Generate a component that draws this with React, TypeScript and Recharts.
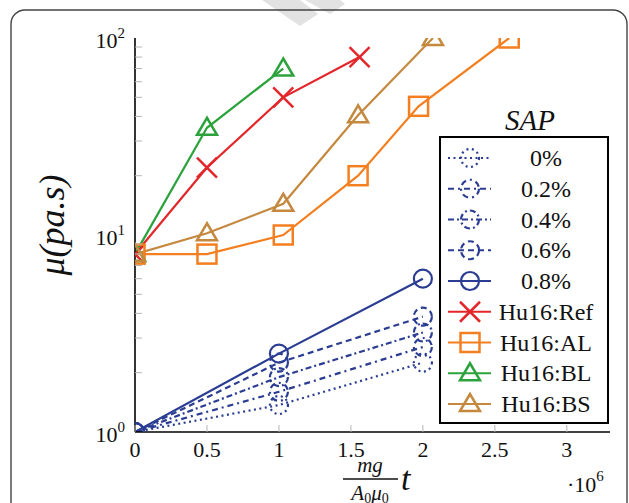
import { Line, LineChart, XAxis, YAxis } from "recharts";

// time axis values (mg/(A0 mu0) t) and viscosity mu in pa.s
const sapTime = [0, 1e6, 2e6];
const sap0 = [1, 1.37, 2.25];
const sap02 = [1, 1.6, 2.7];
const sap04 = [1, 1.9, 3.2];
const sap06 = [1, 2.25, 3.85];
const sap08 = [1, 2.5, 6];

const refTime = [0, 0.5e6, 1.03e6, 1.56e6];
const refMu = [8, 22, 50, 80];
const alTime = [0, 0.5e6, 1.03e6, 1.55e6, 1.97e6, 2.6e6];
const alMu = [8, 8, 10, 20, 45, 100];
const blTime = [0, 0.5e6, 1.03e6];
const blMu = [8, 35, 70];
const bsTime = [0, 0.5e6, 1.03e6, 1.55e6, 2.07e6];
const bsMu = [8, 10.2, 14.4, 40.5, 100];

const xTicks = [0, 0.5e6, 1e6, 1.5e6, 2e6, 2.5e6, 3e6];
const yTicks = [1, 2, 3, 4, 5, 6, 7, 8, 9, 10, 20, 30, 40, 50, 60, 70, 80, 90, 100];
const yMajor: Record<number, string> = { 1: "0", 10: "1", 100: "2" };

const BLUE = "#2b3d92";
const SERIF = '"Liberation Serif"';

type Shape = "circle" | "cross" | "square" | "triangle";

interface Series {
  name: string;
  x: number[];
  y: number[];
  color: string;
  dash?: string;
  shape: Shape;
}

const series: Series[] = [
  { name: "0%", x: sapTime, y: sap0, color: BLUE, dash: "2 3.5", shape: "circle" },
  { name: "0.2%", x: sapTime, y: sap02, color: BLUE, dash: "6 4 2 4", shape: "circle" },
  { name: "0.4%", x: sapTime, y: sap04, color: BLUE, dash: "6 3 2 3", shape: "circle" },
  { name: "0.6%", x: sapTime, y: sap06, color: BLUE, dash: "6 4", shape: "circle" },
  { name: "0.8%", x: sapTime, y: sap08, color: BLUE, shape: "circle" },
  { name: "Hu16:Ref", x: refTime, y: refMu, color: "#e3262a", shape: "cross" },
  { name: "Hu16:AL", x: alTime, y: alMu, color: "#f47f20", shape: "square" },
  { name: "Hu16:BL", x: blTime, y: blMu, color: "#2ca23c", shape: "triangle" },
  { name: "Hu16:BS", x: bsTime, y: bsMu, color: "#c4893f", shape: "triangle" },
];

const css = `
#root text, #root tspan, .serif-text { font-family: "Liberation Serif", "Tinos", "Times New Roman" !important; }
`;

function toPoints(xs: number[], ys: number[]) {
  return xs.map((t, i) => ({ t, mu: ys[i] }));
}

function T({ children, size, italic, ...rest }: any) {
  return (
    <text
      {...rest}
      className="serif-text"
      fill="#111"
      fontFamily="Liberation Serif"
      style={{ fontFamily: SERIF, fontSize: size, fontStyle: italic ? "italic" : "normal" }}
    >
      {children}
    </text>
  );
}

function Marker({ cx, cy, shape, color, dash }: { cx: number; cy: number; shape: Shape; color: string; dash?: string }) {
  const common = { fill: "none", stroke: color, strokeDasharray: dash };
  if (shape === "circle") return <circle cx={cx} cy={cy} r={9} strokeWidth={2.2} {...common} />;
  if (shape === "square")
    return <rect x={cx - 9.5} y={cy - 9.5} width={19} height={19} strokeWidth={2.5} {...common} />;
  if (shape === "triangle")
    return (
      <polygon
        points={`${cx},${cy - 10} ${cx - 10},${cy + 7} ${cx + 10},${cy + 7}`}
        strokeWidth={2.5}
        {...common}
      />
    );
  return (
    <g stroke={color} strokeWidth={2.5}>
      <line x1={cx - 10} y1={cy - 10} x2={cx + 10} y2={cy + 10} />
      <line x1={cx - 10} y1={cy + 10} x2={cx + 10} y2={cy - 10} />
    </g>
  );
}

function BottomTick(props: any) {
  const { x, y, payload } = props;
  return (
    <g>
      <line x1={x} x2={x} y1={y} y2={y - 7} stroke="#b5b5b5" strokeWidth={1} />
      <T x={x} y={y + 25} textAnchor="middle" size={22}>
        {String(payload.value / 1e6)}
      </T>
    </g>
  );
}

function TopTick(props: any) {
  const { x, y } = props;
  return <line x1={x} x2={x} y1={y} y2={y + 7} stroke="#b5b5b5" strokeWidth={1} />;
}

function LeftTick(props: any) {
  const { x, y, payload } = props;
  const exp = yMajor[payload.value];
  return (
    <g>
      <line x1={x} x2={x + (exp ? 0 : 7)} y1={y} y2={y} stroke="#b5b5b5" strokeWidth={1} />
      {exp && (
        <T x={x - 10} y={y + 10} textAnchor="end" size={22}>
          10
          <tspan dy={-10} style={{ fontSize: 15 }}>
            {exp}
          </tspan>
        </T>
      )}
    </g>
  );
}

function RightTick(props: any) {
  const { x, y, payload } = props;
  if (yMajor[payload.value]) return <g />;
  return <line x1={x} x2={x - 7} y1={y} y2={y} stroke="#b5b5b5" strokeWidth={1} />;
}

const axisLine = { stroke: "#000", strokeWidth: 1.6 };

export default function App() {
  const rowY = (i: number) => 158 + i * 30.75;
  return (
    <div style={{ position: "absolute", left: 0, top: 0, width: 629, height: 503, overflow: "hidden", background: "#fff" }}>
      <style>{css}</style>
      <svg width={629} height={503} style={{ position: "absolute", left: 0, top: 0 }}>
        <path d="M262,0 L300,26 L318,14 L300,0 Z M305,0 L330,14 L345,4 L340,0 Z" fill="#e2e2e2" />
        <rect x={11} y={10} width={616} height={520} rx={14} fill="none" stroke="#444" strokeWidth={1.4} />
      </svg>
      <div style={{ position: "absolute", left: 0, top: 0 }}>
        <LineChart width={629} height={503} margin={{ top: 38, right: 19, bottom: 41, left: 75 }}>
          <XAxis
            xAxisId="b"
            type="number"
            dataKey="t"
            domain={[0, 3.3e6]}
            ticks={xTicks}
            interval={0}
            tick={BottomTick}
            tickLine={false}
            tickSize={0}
            tickMargin={0}
            axisLine={axisLine}
            height={30}
            allowDataOverflow
          />
          <XAxis
            xAxisId="t"
            orientation="top"
            type="number"
            domain={[0, 3.3e6]}
            ticks={xTicks}
            interval={0}
            tick={TopTick}
            tickLine={false}
            tickSize={0}
            tickMargin={0}
            axisLine={axisLine}
            height={0}
            allowDataOverflow
          />
          <YAxis
            yAxisId="l"
            type="number"
            dataKey="mu"
            scale="log"
            domain={[1, 100]}
            ticks={yTicks}
            interval={0}
            tick={LeftTick}
            tickLine={false}
            tickSize={0}
            tickMargin={0}
            axisLine={axisLine}
            width={60}
            allowDataOverflow
          />
          <YAxis
            yAxisId="r"
            orientation="right"
            type="number"
            scale="log"
            domain={[1, 100]}
            ticks={yTicks}
            interval={0}
            tick={RightTick}
            tickLine={false}
            tickSize={0}
            tickMargin={0}
            axisLine={axisLine}
            width={0}
            allowDataOverflow
          />
          {series.map((s) => (
            <Line
              key={s.name}
              xAxisId="b"
              yAxisId="l"
              data={toPoints(s.x, s.y)}
              dataKey="mu"
              name={s.name}
              stroke={s.color}
              strokeWidth={2.2}
              strokeDasharray={s.dash}
              isAnimationActive={false}
              dot={(p: any) => (
                <Marker key={`${s.name}-${p.index}`} cx={p.cx} cy={p.cy} shape={s.shape} color={s.color} dash={s.dash} />
              )}
              activeDot={false}
            />
          ))}
        </LineChart>
      </div>
      <svg width={629} height={503} style={{ position: "absolute", left: 0, top: 0 }}>
        {/* y label */}
        <T x={64} y={225} size={36} italic textAnchor="middle" transform="rotate(-90 64 225)">
          μ(pa.s)
        </T>
        {/* x label */}
        <T x={370} y={472} size={21} italic textAnchor="middle">
          mg
        </T>
        <line x1={343} x2={398} y1={479} y2={479} stroke="#111" strokeWidth={1.3} />
        <T x={370} y={500} size={21} italic textAnchor="middle">
          A<tspan dy={3} style={{ fontSize: 14, fontStyle: "normal" }}>0</tspan>
          <tspan dy={-3}>μ</tspan>
          <tspan dy={3} style={{ fontSize: 14, fontStyle: "normal" }}>0</tspan>
        </T>
        <T x={401} y={490} size={34} italic>
          t
        </T>
        <T x={567} y={492} size={22}>
          ·10<tspan dy={-11} style={{ fontSize: 15 }}>6</tspan>
        </T>
        {/* legend */}
        <T x={530} y={130} size={29} italic textAnchor="middle">
          SAP
        </T>
        <rect x={440} y={137} width={168} height={286} fill="#fff" stroke="#000" strokeWidth={2} />
        {series.map((s, i) => (
          <g key={s.name}>
            <line x1={448} x2={491} y1={rowY(i)} y2={rowY(i)} stroke={s.color} strokeWidth={2.2} strokeDasharray={s.dash} />
            <Marker cx={470} cy={rowY(i)} shape={s.shape} color={s.color} dash={s.dash} />
            <T x={546} y={rowY(i) + 8} size={24} textAnchor="middle">
              {s.name}
            </T>
          </g>
        ))}
      </svg>
    </div>
  );
}
